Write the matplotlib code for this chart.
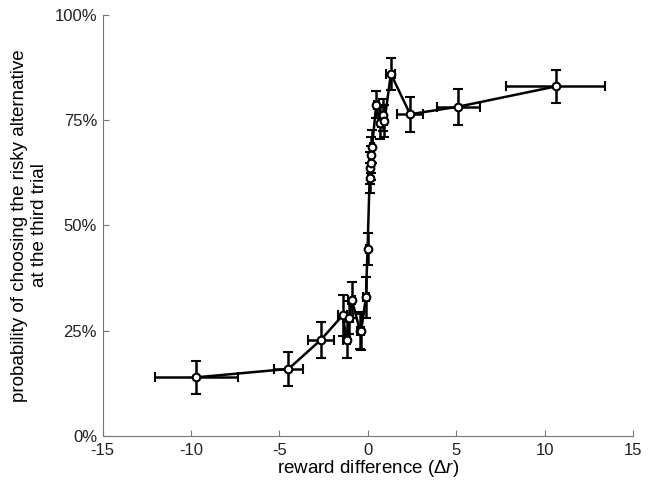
import matplotlib
matplotlib.use("Agg")
import matplotlib.pyplot as plt
from matplotlib.ticker import FuncFormatter

plt.rcParams["font.family"] = ["Liberation Sans", "DejaVu Sans"]
plt.rcParams["mathtext.fontset"] = "custom"
plt.rcParams["mathtext.it"] = "Liberation Sans:italic"
plt.rcParams["mathtext.rm"] = "Liberation Sans"
plt.rcParams["axes.unicode_minus"] = False

# reward difference (x) and probability of risky choice in % (y)
reward_diff = [-9.70, -4.49, -2.66, -1.43, -1.19, -1.04, -0.90, -0.44, -0.38,
               -0.11, -0.02, 0.10, 0.14, 0.17, 0.20, 0.24, 0.47, 0.70, 0.84,
               0.94, 1.30, 2.39, 5.12, 10.62]
prob_risky = [13.9, 15.9, 22.8, 28.6, 22.8, 28.1, 32.3, 24.8, 25.0,
              32.9, 44.3, 61.3, 63.6, 64.8, 66.7, 68.7, 78.6, 74.4, 76.2,
              74.7, 86.0, 76.4, 78.2, 83.0]
x_err = [2.33, 0.80, 0.74, 0.25, 0.20, 0.20, 0.20, 0.15, 0.15,
         0.15, 0.10, 0.10, 0.10, 0.10, 0.10, 0.12, 0.15, 0.15, 0.15,
         0.15, 0.25, 0.72, 1.20, 2.80]
y_err = [3.9, 4.0, 4.2, 4.8, 4.2, 4.0, 4.2, 4.1, 4.5,
         4.8, 3.8, 3.6, 3.8, 4.0, 4.2, 4.0, 3.2, 3.8, 3.8,
         3.8, 3.8, 4.2, 4.3, 4.0]

x_ticks = [-15, -10, -5, 0, 5, 10, 15]
y_ticks = [0, 25, 50, 75, 100]

fig = plt.figure(figsize=(6.54, 4.8), dpi=100)
ax = fig.add_axes([0.157, 0.092, 0.811, 0.877])

ax.errorbar(reward_diff, prob_risky, xerr=x_err, yerr=y_err,
            color="black", lw=1.8, elinewidth=1.8, capsize=3.4, capthick=1.8,
            marker="o", ms=5.5, mfc="white", mec="black", mew=1.5, zorder=3)

ax.set_xlim(-15, 15)
ax.set_ylim(0, 100)
ax.set_xticks(x_ticks)
ax.set_yticks(y_ticks)
ax.yaxis.set_major_formatter(FuncFormatter(lambda v, p: f"{v:.0f}%"))

for side in ["top", "right"]:
    ax.spines[side].set_visible(False)
for side in ["left", "bottom"]:
    ax.spines[side].set_color("#777777")
    ax.spines[side].set_linewidth(0.8)
ax.tick_params(direction="in", length=4, width=0.8, color="#777777",
               labelsize=12, labelcolor="#222222")
ax.tick_params(axis="x", pad=5)
ax.tick_params(axis="y", pad=4)

ax.set_xlabel(r"reward difference ($\Delta r$)", fontsize=13.5, labelpad=0)
ax.set_ylabel("probability of choosing the risky alternative\nat the third trial",
              fontsize=13.5, labelpad=5)

fig.savefig("out.png", dpi=100)
